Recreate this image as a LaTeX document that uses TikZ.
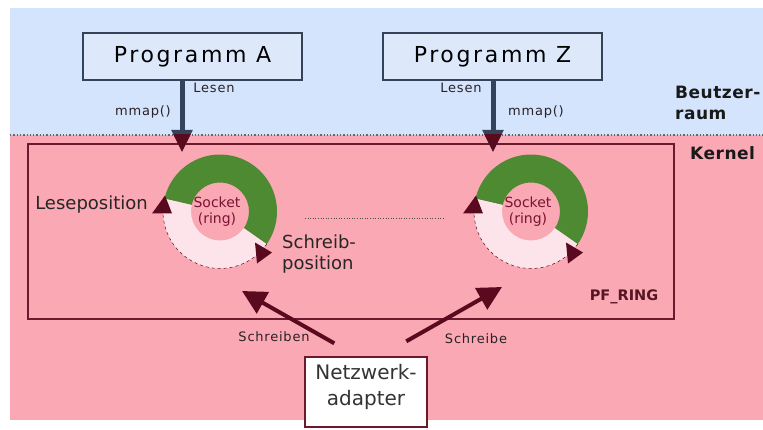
\documentclass[tikz,border=0pt]{standalone}
\usepackage{fontspec}
\setmainfont{DejaVu Sans}
\usetikzlibrary{arrows.meta,calc}

\definecolor{userbg}{HTML}{D4E4FC}
\definecolor{kernbg}{HTML}{FAA8B4}
\definecolor{boxbg}{HTML}{DDE9FB}
\definecolor{slate}{HTML}{34425A}
\definecolor{darkred}{HTML}{5A0A1E}
\definecolor{frame}{HTML}{6A1A2A}
\definecolor{ringgreen}{HTML}{4E8A32}
\definecolor{ringpale}{HTML}{FDE4EA}
\definecolor{sockettext}{HTML}{7A1434}
\definecolor{labeltext}{HTML}{2A2226}

\newcommand\fsz[1]{\fontsize{#1}{#1}\selectfont}

\tikzset{
  progbox/.style={draw=slate, line width=1.4pt, fill=boxbg, minimum width=219pt,
    minimum height=47pt, inner sep=0pt, font=\fsz{22}\addfontfeatures{LetterSpace=12}},
  smalllbl/.style={font=\fsz{13}\addfontfeatures{LetterSpace=6}, text=labeltext, inner sep=1pt},
  sidelbl/.style={font=\fsz{18}, text=black!85, inner sep=0pt, align=left},
  zonelbl/.style={font=\bfseries\fsz{17}\addfontfeatures{LetterSpace=3}, text=black!90,
    inner sep=0pt, align=left},
  readshaft/.style={line width=5pt, draw=slate, -{Triangle[length=22pt,width=20pt]}},
  writearrow/.style={line width=4pt, draw=darkred, -{Triangle[length=24pt,width=24pt]}},
  sockring/.pic={
    % filled part of the ring (green) and free part (pale)
    \fill[ringgreen] (167:57) arc[start angle=167,end angle=-35,radius=57]
      -- (-35:29) arc[start angle=-35,end angle=167,radius=29] -- cycle;
    \fill[ringpale] (-35:57) arc[start angle=-35,end angle=-193,radius=57]
      -- (-193:29) arc[start angle=-193,end angle=-35,radius=29] -- cycle;
    \draw[darkred, dashed, line width=0.5pt]
      (-35:57) arc[start angle=-35,end angle=-193,radius=57];
    % read and write position markers
    \fill[darkred] (-55,16) -- (-68,-2) -- (-48,-2) -- cycle;
    \fill[darkred] (35,-31) -- (37,-52) -- (52,-41) -- cycle;
    \node[text=sockettext, font=\fsz{14}, align=center, inner sep=0pt]
      (-label) at (-3,0) {Socket\\[2pt](ring)};
  }
}

\begin{document}
\begin{tikzpicture}[x=1pt,y=1pt]
\useasboundingbox (0,0) rectangle (763,429);

% user space and kernel space
\fill[userbg] (10,294) rectangle (763,421);
\fill[kernbg] (10,9) rectangle (763,294);
\draw[dotted, line width=1.3pt, black!60] (10,294) -- (763,294);

\node[zonelbl, anchor=west] (user) at (675,326) {Beutzer-\\[4pt]raum};
\node[zonelbl, anchor=west] (kernel) at (690,276) {Kernel};

% PF_RING module
\node[draw=frame, line width=1.4pt, minimum width=646pt, minimum height=175pt,
  inner sep=0pt] (pfring) at (351,197.5) {};
\node[font=\bfseries\fsz{14.5}, text=frame!80!black] (pflbl) at (624,132) {PF\_RING};

% sockets
\pic (ringA) at (220,217.5) {sockring};
\pic (ringZ) at (531,217.5) {sockring};
\draw[dotted, line width=0.6pt, black!70] (305,211) -- (443,211);

\node[sidelbl, anchor=east] (lese) at (148,224) {Leseposition};
\node[sidelbl, anchor=west] (schreib) at (282,175) {Schreib-\\[3pt]position};

% programs
\node[progbox] (progA) at (192.5,372.5) {Programm A};
\node[progbox] (progZ) at (492.5,372.5) {Programm Z};

\coordinate (tipA) at (182,277);
\coordinate (tipZ) at (493,277);
\draw[readshaft] (progA.south -| tipA) -- (tipA);
\draw[readshaft] (progZ.south -| tipZ) -- (tipZ);
\begin{scope}
  \clip (0,0) rectangle (763,294);
  \draw[readshaft, draw=darkred] (progA.south -| tipA) -- (tipA);
  \draw[readshaft, draw=darkred] (progZ.south -| tipZ) -- (tipZ);
\end{scope}

\node[smalllbl] (lesenA) at (214,341.5) {Lesen};
\node[smalllbl] (mmapA) at (143,317) {mmap()};
\node[smalllbl] (lesenZ) at (461,341.5) {Lesen};
\node[smalllbl] (mmapZ) at (536,317) {mmap()};

% network adapter
\node[draw=frame, line width=1.4pt, fill=white, minimum width=122pt, minimum height=70pt,
  inner sep=0pt] (net) at (366,37) {};
\node[align=center, text=black!80, font=\fsz{20}, inner sep=0pt]
  (netlbl) at ($(net.center)+(0,5)$) {Netzwerk-\\[6pt]adapter};

\coordinate (wA) at (242,138);
\coordinate (wZ) at (502,142);
\draw[writearrow] ($(net.north west)+(30,13)$) -- (wA);
\draw[writearrow] ($(net.north west)+(102,15)$) -- (wZ);

\node[smalllbl] (schrA) at (274,92) {Schreiben};
\node[smalllbl] (schrZ) at (476,90) {Schreibe};
\end{tikzpicture}
\end{document}
